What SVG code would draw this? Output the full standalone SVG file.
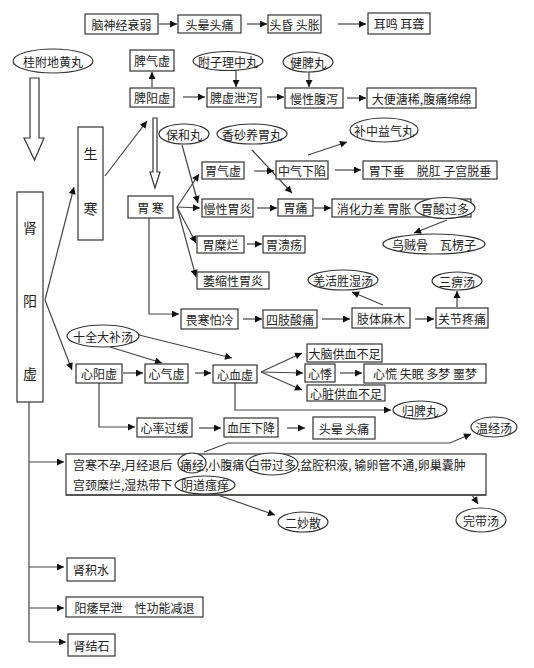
<svg xmlns="http://www.w3.org/2000/svg" width="534" height="668" viewBox="0 0 534 668">
<defs>
<marker id="a" viewBox="0 0 10 10" refX="10" refY="5" markerWidth="8" markerHeight="7" markerUnits="userSpaceOnUse" orient="auto"><path d="M0,0 L10,5 L0,10 z" fill="#111"/></marker>
<style>
rect{fill:#fff;stroke:#333;stroke-width:1.2}
ellipse{fill:#fff;stroke:#333;stroke-width:1.2}
text{font-family:"Noto Sans CJK SC","Noto Sans CJK JP",sans-serif;font-size:12px;fill:#222;text-anchor:middle;dominant-baseline:central}
.big{font-size:14px}
.l{text-anchor:start;font-size:12px}
#conn line,#conn path{stroke:#444;stroke-width:1.2;fill:none;marker-end:url(#a)}
#conn .n{marker-end:none}
.hol{fill:#fff;stroke:#333;stroke-width:1.2}
</style>
</defs>
<rect x="0" y="0" width="534" height="668" style="fill:#fff;stroke:none"/>

<g id="conn">
<line x1="159" y1="24" x2="177" y2="24"/>
<line x1="247" y1="24" x2="267" y2="24"/>
<line x1="338" y1="24" x2="366" y2="24"/>
<line x1="152" y1="87" x2="152" y2="72"/>
<line x1="183" y1="97" x2="205" y2="97"/>
<line x1="236" y1="71" x2="236" y2="87"/>
<line x1="309" y1="72" x2="309" y2="87"/>
<line x1="267" y1="97" x2="284" y2="97"/>
<line x1="347" y1="98" x2="366" y2="98"/>
<line x1="105" y1="176" x2="147" y2="121"/>
<line x1="45" y1="300" x2="74" y2="187"/>
<line x1="45" y1="300" x2="72" y2="370"/>
<line x1="177" y1="207" x2="199" y2="174"/>
<line x1="177" y1="207" x2="200" y2="208"/>
<line x1="177" y1="207" x2="196" y2="243"/>
<line x1="177" y1="207" x2="196" y2="277"/>
<line x1="182" y1="145" x2="198" y2="203"/>
<line x1="252" y1="150" x2="292" y2="193"/>
<line x1="254" y1="171" x2="274" y2="171"/>
<line x1="308" y1="155" x2="347" y2="142"/>
<line x1="335" y1="170" x2="361" y2="170"/>
<line x1="257" y1="208" x2="277" y2="208"/>
<line x1="314" y1="208" x2="331" y2="208"/>
<line x1="447" y1="220" x2="414" y2="233"/>
<line x1="247" y1="244" x2="262" y2="244"/>
<path d="M149,218 V314 H179"/>
<line x1="243" y1="319" x2="262" y2="319"/>
<line x1="322" y1="319" x2="350" y2="319"/>
<line x1="383" y1="305" x2="352" y2="292"/>
<line x1="415" y1="319" x2="434" y2="319"/>
<line x1="457" y1="307" x2="457" y2="291"/>
<line x1="110" y1="347" x2="162" y2="363"/>
<line x1="139" y1="335" x2="232" y2="358"/>
<line x1="123" y1="373" x2="143" y2="373"/>
<line x1="195" y1="373" x2="211" y2="373"/>
<line x1="261" y1="372" x2="302" y2="353"/>
<line x1="261" y1="372" x2="303" y2="373"/>
<line x1="261" y1="372" x2="302" y2="390"/>
<line x1="340" y1="373" x2="362" y2="373"/>
<path d="M235,383 V410 H391"/>
<path d="M99,383 V427 H135"/>
<line x1="199" y1="428" x2="221" y2="428"/>
<line x1="287" y1="428" x2="305" y2="428"/>
<path d="M204,452 L228,443 H450 L471,434"/>
<line x1="212" y1="493" x2="275" y2="515"/>
<path d="M460,477 L478,504"/>
<path class="n" d="M29,402 V642"/>
<line x1="29" y1="462" x2="64" y2="462"/>
<line x1="29" y1="567" x2="64" y2="567"/>
<line x1="29" y1="608" x2="64" y2="608"/>
<line x1="29" y1="642" x2="66" y2="642"/>
</g>

<g id="hollow1"><polygon class="hol" points="30,78 39,78 39,138 44,138 34.5,160 24,138 30,138"/></g>
<g id="hollow2"><polygon class="hol" points="153,118 157,118 157,172 160,172 155,188 150,172 153,172"/></g>

<g id="n1"><rect x="85" y="14" width="73" height="20"/><text x="121.5" y="24">脑神经衰弱</text></g>
<g id="n2"><rect x="178" y="15" width="63" height="18"/><text x="209.5" y="24">头晕头痛</text></g>
<g id="n3"><rect x="268" y="15" width="53" height="18"/><text x="294.5" y="24">头昏 头胀</text></g>
<g id="n4"><rect x="368" y="13" width="62" height="21"/><text x="399" y="23.5">耳鸣 耳聋</text></g>
<g id="n5"><ellipse cx="53" cy="61" rx="40" ry="12"/><text x="53" y="61">桂附地黄丸</text></g>
<g id="n6"><rect x="130" y="50" width="44" height="21"/><text x="152" y="60.5">脾气虚</text></g>
<g id="n7"><rect x="130" y="88" width="44" height="19"/><text x="152" y="97.5">脾阳虚</text></g>
<g id="n8"><ellipse cx="228" cy="61" rx="35" ry="9.5"/><text x="228" y="61">附子理中丸</text></g>
<g id="n9"><ellipse cx="308" cy="62" rx="25" ry="10"/><text x="308" y="62">健脾丸</text></g>
<g id="n10"><rect x="207" y="88" width="54" height="19"/><text x="234" y="97.5">脾虚泄泻</text></g>
<g id="n11"><rect x="285" y="88" width="58" height="20"/><text x="314" y="98">慢性腹泻</text></g>
<g id="n12"><rect x="367" y="88" width="109" height="20"/><text x="421.5" y="98">大便溏稀,腹痛绵绵</text></g>
<g id="n13"><rect x="78" y="127" width="25" height="113"/><text class="big" x="90.5" y="153">生</text><text class="big" x="90.5" y="208">寒</text></g>
<g id="n14"><ellipse cx="184" cy="134" rx="25" ry="10"/><text x="184" y="134">保和丸</text></g>
<g id="n15"><ellipse cx="252" cy="134" rx="35" ry="10"/><text x="252" y="134">香砂养胃丸</text></g>
<g id="n16"><ellipse cx="384" cy="130" rx="34" ry="12"/><text x="384" y="130">补中益气丸</text></g>
<g id="n17"><rect x="128" y="196" width="45" height="22"/><text x="150.5" y="207">胃 寒</text></g>
<g id="n18"><rect x="202" y="162" width="42" height="17"/><text x="223" y="170.5">胃气虚</text></g>
<g id="n19"><rect x="276" y="161" width="52" height="18"/><text x="302" y="170">中气下陷</text></g>
<g id="n20"><rect x="363" y="161" width="134" height="18"/><text x="430" y="170">胃下垂　脱肛 子宫脱垂</text></g>
<g id="n21"><rect x="202" y="199" width="51" height="18"/><text x="227.5" y="208">慢性胃炎</text></g>
<g id="n22"><rect x="278" y="199" width="35" height="17"/><text x="295.5" y="207.5">胃痛</text></g>
<g id="n23"><rect x="332" y="199" width="139" height="18"/><text x="374" y="208">消化力差 胃胀</text><ellipse cx="445" cy="208" rx="30" ry="10.5"/><text x="445" y="208">胃酸过多</text></g>
<g id="n24"><ellipse cx="434" cy="244" rx="51" ry="10"/><text x="434" y="244">乌贼骨　瓦楞子</text></g>
<g id="n25"><rect x="197" y="236" width="47" height="17"/><text x="220.5" y="244.5">胃糜烂</text></g>
<g id="n26"><rect x="263" y="236" width="42" height="17"/><text x="284" y="244.5">胃溃疡</text></g>
<g id="n27"><rect x="197" y="272" width="72" height="17"/><text x="233" y="280.5">萎缩性胃炎</text></g>
<g id="n28"><ellipse cx="343" cy="280" rx="35" ry="10"/><text x="343" y="280">羌活胜湿汤</text></g>
<g id="n29"><ellipse cx="457" cy="281" rx="25" ry="9"/><text x="457" y="281">三痹汤</text></g>
<g id="n30"><rect x="181" y="309" width="57" height="20"/><text x="209.5" y="319">畏寒怕冷</text></g>
<g id="n31"><rect x="263" y="310" width="54" height="18"/><text x="290" y="319">四肢酸痛</text></g>
<g id="n32"><rect x="352" y="308" width="58" height="20"/><text x="381" y="318">肢体麻木</text></g>
<g id="n33"><rect x="436" y="308" width="52" height="20"/><text x="462" y="318">关节疼痛</text></g>
<g id="n34"><rect x="17" y="192" width="26" height="210"/><text class="big" x="30" y="227">肾</text><text class="big" x="30" y="300">阳</text><text class="big" x="30" y="373">虚</text></g>
<g id="n35"><ellipse cx="103" cy="336" rx="36" ry="11"/><text x="103" y="336">十全大补汤</text></g>
<g id="n36"><rect x="76" y="364" width="46" height="19"/><text x="99" y="373.5">心阳虚</text></g>
<g id="n37"><rect x="145" y="364" width="43" height="19"/><text x="166.5" y="373.5">心气虚</text></g>
<g id="n38"><rect x="213" y="365" width="44" height="18"/><text x="235" y="374">心血虚</text></g>
<g id="n39"><rect x="307" y="344" width="75" height="18"/><text x="344.5" y="353">大脑供血不足</text></g>
<g id="n40"><rect x="305" y="364" width="30" height="18"/><text x="320" y="373">心悸</text></g>
<g id="n41"><rect x="364" y="364" width="122" height="19"/><text x="425" y="373.5">心慌 失眠 多梦 噩梦</text></g>
<g id="n42"><rect x="307" y="385" width="78" height="16"/><text x="346" y="393">心脏供血不足</text></g>
<g id="n43"><ellipse cx="420" cy="410" rx="27" ry="9"/><text x="420" y="410">归脾丸</text></g>
<g id="n44"><rect x="137" y="418" width="55" height="19"/><text x="164.5" y="427.5">心率过缓</text></g>
<g id="n45"><rect x="224" y="418" width="54" height="19"/><text x="251" y="427.5">血压下降</text></g>
<g id="n46"><rect x="313" y="417" width="62" height="22"/><text x="344" y="428">头晕 头痛</text></g>
<g id="n47"><ellipse cx="494" cy="427" rx="23" ry="10"/><text x="494" y="427">温经汤</text></g>
<g id="n48"><rect x="66" y="454" width="420" height="41"/>
<line x1="66" y1="495" x2="486" y2="495" style="stroke:#555;stroke-width:2"/>
<text class="l" x="73" y="464">宫寒不孕,月经退后</text>
<ellipse cx="192" cy="463" rx="14" ry="10"/><text class="l" x="180" y="464">痛经</text>
<text class="l" x="205" y="464">,小腹痛</text>
<ellipse cx="272" cy="464" rx="26" ry="11"/><text class="l" x="248" y="464">白带过多</text>
<text class="l" x="297" y="464">,盆腔积液, 输卵管不通,卵巢囊肿</text>
<text class="l" x="73" y="484">宫颈糜烂,湿热带下</text>
<ellipse cx="205" cy="485" rx="30" ry="9"/><text class="l" x="181" y="484">阴道瘙痒</text>
</g>
<g id="n49"><ellipse cx="303" cy="522" rx="25" ry="10"/><text x="303" y="522">二妙散</text></g>
<g id="n50"><ellipse cx="481" cy="520" rx="25" ry="12"/><text x="481" y="520">完带汤</text></g>
<g id="n51"><rect x="67" y="558" width="48" height="23"/><text x="91" y="569.5">肾积水</text></g>
<g id="n52"><rect x="66" y="597" width="137" height="20"/><text x="134.5" y="607">阳痿早泄　性功能减退</text></g>
<g id="n53"><rect x="68" y="634" width="47" height="22"/><text x="91.5" y="645">肾结石</text></g>
</svg>
